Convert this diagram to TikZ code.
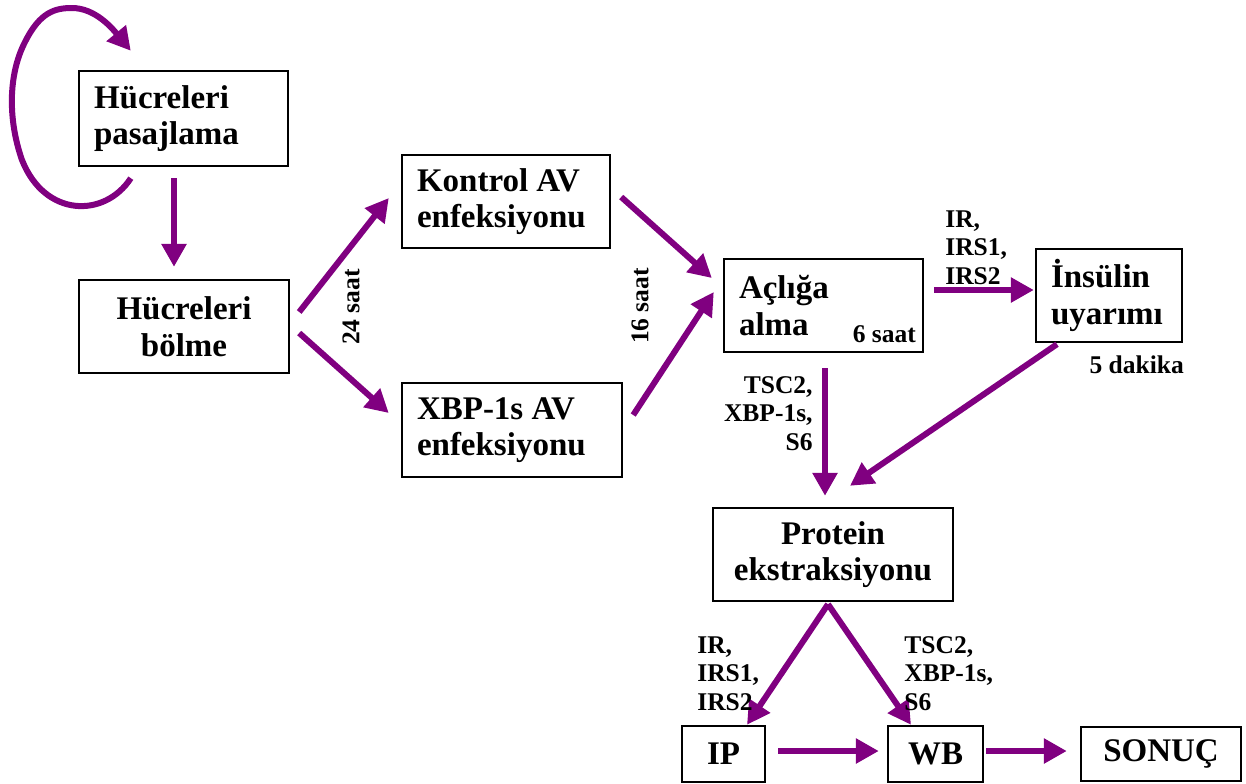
\documentclass[tikz,border=0pt]{standalone}
\usepackage{fontspec}
\setmainfont{Liberation Serif}
\usetikzlibrary{arrows.meta,calc}
\definecolor{akis}{RGB}{128,0,128}
\newcommand{\kutuyazi}{\fontsize{16.5}{18.25}\selectfont\bfseries}
\newcommand{\etiketyazi}{\fontsize{12.75}{14.25}\selectfont\bfseries}
\tikzset{
  kutu/.style={draw,line width=1.2pt,inner xsep=7.5pt,inner ysep=0pt,font=\kutuyazi,minimum height=46.5pt},
  etiket/.style={inner sep=0pt,font=\etiketyazi},
  akisok/.style={draw=akis,color=akis,line width=3pt,-{Triangle[length=11.5pt,width=12pt]}}
}
\begin{document}
\begin{tikzpicture}[x=0.5pt,y=-0.5pt]
\useasboundingbox (0,0) rectangle (1246,783);
%First column
  \node[kutu,text width=89.5pt,align=flush left,minimum height=47.5pt] (Pas) at (183.5,118.5) {Hücreleri\\pasajlama};
  \node[kutu,text width=90pt,align=flush center] (Bol) at (184,326.5) {Hücreleri\\bölme};
  \draw[akisok] ($(Pas.south west)+(53,11)$) .. controls (105,218) and (45,218) .. (22,160)
    .. controls (8,120) and (8,75) .. (25,42) .. controls (40,12) and (55,8) .. (72,8)
    .. controls (95,8) and (112,28) .. ($(Pas.north west)+(53,-19)$);
  \draw[akisok] ($(Pas.south)+(-9.5,11)$) -- ($(Bol.north)+(-10,-12)$);
% infection
  \node[kutu,text width=89pt,align=flush left] (Kon) at (506,201.5) {Kontrol AV\\enfeksiyonu};
  \node[kutu,text width=95pt,align=flush left,minimum height=47pt] (Xbp) at (512,430) {XBP-1s AV\\enfeksiyonu};
  \draw[akisok] ($(Bol.east)+(9,-14.5)$) -- ($(Kon.west)+(-12,-3.5)$);
  \draw[akisok] ($(Bol.east)+(9,6.5)$) -- ($(Xbp.west)+(-12,-17)$);
  \node[etiket,rotate=90] (S24) at (351,307) {24 saat};
% starving
  \node[kutu,text width=84.5pt,align=flush left] (Acl) at (823.5,305.5) {Açlığa\\alma};
  \node[etiket,anchor=base east] (S6) at ($(Acl.south east)+(-8,-11)$) {6 saat};
  \draw[akisok] ($(Kon.east)+(10,-4.5)$) -- ($(Acl.west)+(-11,-27.5)$);
  \draw[akisok] ($(Xbp.east)+(10,-15)$) -- ($(Acl.west)+(-9,-13.5)$);
  \node[etiket,rotate=90] (S16) at (640,306) {16 saat};
% insulin
  \node[kutu,text width=58pt,align=flush left] (Ins) at (1109,295.5) {İnsülin\\uyarımı};
  \node[etiket,anchor=base east] (Dk5) at ($(Ins.south east)+(1,30)$) {5 dakika};
  \draw[akisok] ($(Acl.east)+(10,-15.5)$) -- ($(Ins.west)+(-1,-5.5)$);
  \node[etiket,align=flush left,anchor=north west] (L1) at (945,210) {IR,\\IRS1,\\IRS2};
% protein
  \node[kutu,text width=105pt,align=flush center] (Pro) at (833,554.5) {Protein\\ekstraksiyonu};
  \draw[akisok] ($(Acl.south)+(1.5,15)$) -- ($(Pro.north)+(-8,-11)$);
  \draw[akisok] ($(Ins.south)+(-52,1)$) -- ($(Pro.north)+(17,-21)$);
  \node[etiket,align=flush right,anchor=north east] (L2) at (813,376) {TSC2,\\XBP-1s,\\S6};
% last row
  \node[kutu,text width=26.5pt,align=flush center,minimum height=28pt] (IP) at (723.5,754) {IP};
  \node[kutu,text width=32.5pt,align=flush center,minimum height=28pt] (WB) at (935.5,754) {WB};
  \node[kutu,text width=65pt,align=flush center,minimum height=27pt] (Son) at (1161,754) {SONUÇ};
  \draw[akisok] ($(Pro.south)+(-5,2)$) -- ($(IP.north)+(23.5,0)$);
  \draw[akisok] ($(Pro.south)+(-5,2)$) -- ($(WB.north)+(-24.5,0)$);
  \draw[akisok] ($(IP.east)+(12,-3)$) -- ($(WB.west)+(-8,-3)$);
  \draw[akisok] ($(WB.east)+(2,-3)$) -- ($(Son.west)+(-13,-3)$);
  \node[etiket,align=flush left,anchor=north west] (L3) at (697,636) {IR,\\IRS1,\\IRS2};
  \node[etiket,align=flush left,anchor=north west] (L4) at (904,636) {TSC2,\\XBP-1s,\\S6};
\end{tikzpicture}
\end{document}
